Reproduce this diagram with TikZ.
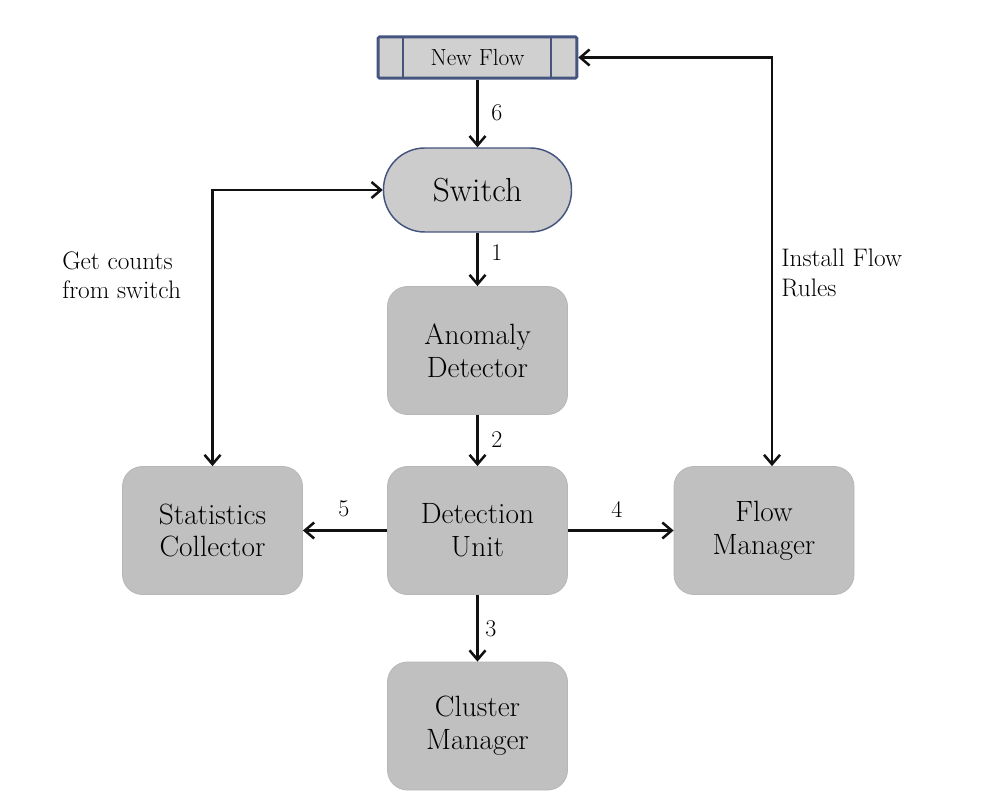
\documentclass[tikz,border=0pt]{standalone}
\usepackage{fontspec}
\usetikzlibrary{arrows.meta,calc}
\definecolor{boxgray}{HTML}{C0C0C0}
\definecolor{swgray}{HTML}{CCCCCC}
\definecolor{nfgray}{HTML}{D0D0D0}
\definecolor{navy}{HTML}{45557F}
\definecolor{ink}{HTML}{111111}
\tikzset{
  blk/.style={rectangle, rounded corners=15pt, fill=boxgray, draw=boxgray!95!black, line width=0.6pt,
    minimum width=135pt, minimum height=96pt, align=center, inner sep=2pt,
    font=\fontsize{22}{24.5}\selectfont},
  sw/.style={rectangle, rounded corners=31pt, fill=swgray, draw=navy, line width=1.1pt,
    minimum width=141pt, minimum height=63pt, font=\fontsize{25}{28}\selectfont},
  nf/.style={rectangle, fill=nfgray, draw=navy, line width=2.2pt, rounded corners=1pt,
    minimum width=149pt, minimum height=31pt, font=\fontsize{17.5}{20}\selectfont},
  conn/.style={draw=ink, line width=1.9pt, -{Straight Barb[length=7pt,width=12pt]}},
  dconn/.style={draw=ink, line width=1.9pt, {Straight Barb[length=7pt,width=12pt]}-{Straight Barb[length=7pt,width=12pt]}},
  num/.style={font=\fontsize{18}{20}\selectfont, inner sep=0pt},
  side/.style={font=\fontsize{19}{22}\selectfont, align=left, inner sep=0pt, anchor=west},
}
\begin{document}
\begin{tikzpicture}[x=0.75pt, y=-0.75pt]
\useasboundingbox (0,0) rectangle (1004,806);
\node[nf] (newflow) at (477.5,57.5) {New Flow};
\draw[navy, line width=2.2pt] (403,38) -- (403,77) (551,38) -- (551,77);
\node[sw] (switch) at (477.5,190) {Switch};
\node[blk] (anomaly) at (477.5,350.5) {Anomaly\\Detector};
\node[blk] (stats) at (212.5,530.5) {Statistics\\Collector};
\node[blk] (detect) at (477.5,530.5) {Detection\\Unit};
\node[blk] (flowm) at (764,530.5) {Flow\\Manager};
\node[blk] (cluster) at (477.5,726) {Cluster\\Manager};

\draw[conn] (newflow.south) -- (switch.north);
\draw[conn] (switch.south) -- (anomaly.north);
\draw[conn] (anomaly.south) -- (detect.north);
\draw[conn] (detect.south) -- (cluster.north);
\draw[conn] (detect.east) -- (flowm.west);
\draw[conn] (detect.west) -- (stats.east);
\draw[dconn] (stats.north) |- (switch.west);
\draw[dconn] ([xshift=6pt]flowm.north) |- (newflow.east);

\node[num] (l6) at (497,113) {6};
\node[num] (l1) at (497,253) {1};
\node[num] (l2) at (497,440) {2};
\node[num] (l3) at (491,629) {3};
\node[num] (l4) at (617,509) {4};
\node[num] (l5) at (344,509) {5};
\node[side] (getc) at (62,275) {Get counts\\from switch};
\node[side] (inst) at (781,273) {Install Flow\\Rules};
\end{tikzpicture}
\end{document}
